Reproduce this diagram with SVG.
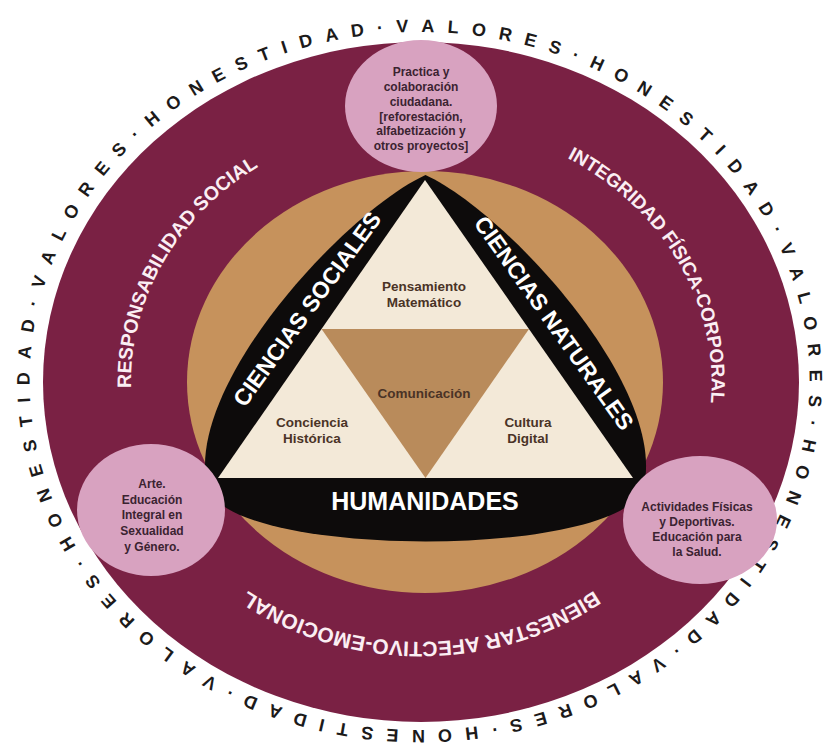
<svg xmlns="http://www.w3.org/2000/svg" width="838" height="751" viewBox="0 0 838 751">
<style>
.ring{font-family:"Liberation Sans",Arial,sans-serif;font-weight:bold;font-size:18px;fill:#1c1a1a}
.lbl{font-family:"Liberation Sans",Arial,sans-serif;font-weight:bold;fill:#fbeef3}
.ct{font-family:"Liberation Sans",Arial,sans-serif;font-weight:bold;font-size:12px;fill:#3b2331;text-anchor:middle}
.tt{font-family:"Liberation Sans",Arial,sans-serif;font-weight:bold;font-size:13.5px;fill:#4a3326;text-anchor:middle}
.bt{font-family:"Liberation Sans",Arial,sans-serif;font-weight:bold;fill:#ffffff;text-anchor:middle}
.pink{fill:#d8a2c0}
</style>
<defs>
<path id="rp" d="M 29.8 395 A 390 349 0 0 1 809.2 367 A 390 349 0 0 1 29.8 395"/>
<path id="leftArc" d="M 180.6 527.4 A 290 260 0 0 1 400.8 122.6"/>
<path id="rightArc" d="M 431.1 122.2 A 292 262 0 0 1 668.6 520.9"/>
<path id="bottomArc" d="M 672.1 512 A 290 260 0 0 1 169.9 512"/>
</defs>
<rect width="838" height="751" fill="#ffffff"/>
<g id="ring-text" class="ring">
<text><textPath href="#rp" startOffset="10">D</textPath></text>
<text><textPath href="#rp" startOffset="35.98">A</textPath></text>
<text><textPath href="#rp" startOffset="61.96">D</textPath></text>
<text><textPath href="#rp" startOffset="87.94">·</textPath></text>
<text><textPath href="#rp" startOffset="106.91">V</textPath></text>
<text><textPath href="#rp" startOffset="131.90">A</textPath></text>
<text><textPath href="#rp" startOffset="157.88">L</textPath></text>
<text><textPath href="#rp" startOffset="181.86">O</textPath></text>
<text><textPath href="#rp" startOffset="208.84">R</textPath></text>
<text><textPath href="#rp" startOffset="234.82">E</textPath></text>
<text><textPath href="#rp" startOffset="259.81">S</textPath></text>
<text><textPath href="#rp" startOffset="284.80">·</textPath></text>
<text><textPath href="#rp" startOffset="303.77">H</textPath></text>
<text><textPath href="#rp" startOffset="329.75">O</textPath></text>
<text><textPath href="#rp" startOffset="356.73">N</textPath></text>
<text><textPath href="#rp" startOffset="382.71">E</textPath></text>
<text><textPath href="#rp" startOffset="407.70">S</textPath></text>
<text><textPath href="#rp" startOffset="432.69">T</textPath></text>
<text><textPath href="#rp" startOffset="456.67">I</textPath></text>
<text><textPath href="#rp" startOffset="474.65">D</textPath></text>
<text><textPath href="#rp" startOffset="500.63">A</textPath></text>
<text><textPath href="#rp" startOffset="526.61">D</textPath></text>
<text><textPath href="#rp" startOffset="552.59">·</textPath></text>
<text><textPath href="#rp" startOffset="571.56">V</textPath></text>
<text><textPath href="#rp" startOffset="596.55">A</textPath></text>
<text><textPath href="#rp" startOffset="622.53">L</textPath></text>
<text><textPath href="#rp" startOffset="646.51">O</textPath></text>
<text><textPath href="#rp" startOffset="673.49">R</textPath></text>
<text><textPath href="#rp" startOffset="699.47">E</textPath></text>
<text><textPath href="#rp" startOffset="724.46">S</textPath></text>
<text><textPath href="#rp" startOffset="749.45">·</textPath></text>
<text><textPath href="#rp" startOffset="768.42">H</textPath></text>
<text><textPath href="#rp" startOffset="794.40">O</textPath></text>
<text><textPath href="#rp" startOffset="821.38">N</textPath></text>
<text><textPath href="#rp" startOffset="847.36">E</textPath></text>
<text><textPath href="#rp" startOffset="872.35">S</textPath></text>
<text><textPath href="#rp" startOffset="897.34">T</textPath></text>
<text><textPath href="#rp" startOffset="921.32">I</textPath></text>
<text><textPath href="#rp" startOffset="939.30">D</textPath></text>
<text><textPath href="#rp" startOffset="965.28">A</textPath></text>
<text><textPath href="#rp" startOffset="991.26">D</textPath></text>
<text><textPath href="#rp" startOffset="1017.24">·</textPath></text>
<text><textPath href="#rp" startOffset="1036.21">V</textPath></text>
<text><textPath href="#rp" startOffset="1061.20">A</textPath></text>
<text><textPath href="#rp" startOffset="1087.18">L</textPath></text>
<text><textPath href="#rp" startOffset="1111.16">O</textPath></text>
<text><textPath href="#rp" startOffset="1138.14">R</textPath></text>
<text><textPath href="#rp" startOffset="1164.12">E</textPath></text>
<text><textPath href="#rp" startOffset="1189.11">S</textPath></text>
<text><textPath href="#rp" startOffset="1214.10">·</textPath></text>
<text><textPath href="#rp" startOffset="1233.07">H</textPath></text>
<text><textPath href="#rp" startOffset="1259.05">O</textPath></text>
<text><textPath href="#rp" startOffset="1286.03">N</textPath></text>
<text><textPath href="#rp" startOffset="1312.01">E</textPath></text>
<text><textPath href="#rp" startOffset="1337.00">S</textPath></text>
<text><textPath href="#rp" startOffset="1361.99">T</textPath></text>
<text><textPath href="#rp" startOffset="1385.97">I</textPath></text>
<text><textPath href="#rp" startOffset="1403.95">D</textPath></text>
<text><textPath href="#rp" startOffset="1429.93">A</textPath></text>
<text><textPath href="#rp" startOffset="1455.91">D</textPath></text>
<text><textPath href="#rp" startOffset="1481.89">·</textPath></text>
<text><textPath href="#rp" startOffset="1500.86">V</textPath></text>
<text><textPath href="#rp" startOffset="1525.85">A</textPath></text>
<text><textPath href="#rp" startOffset="1551.83">L</textPath></text>
<text><textPath href="#rp" startOffset="1575.81">O</textPath></text>
<text><textPath href="#rp" startOffset="1602.79">R</textPath></text>
<text><textPath href="#rp" startOffset="1628.77">E</textPath></text>
<text><textPath href="#rp" startOffset="1653.76">S</textPath></text>
<text><textPath href="#rp" startOffset="1678.75">·</textPath></text>
<text><textPath href="#rp" startOffset="1697.72">H</textPath></text>
<text><textPath href="#rp" startOffset="1723.70">O</textPath></text>
<text><textPath href="#rp" startOffset="1750.68">N</textPath></text>
<text><textPath href="#rp" startOffset="1776.66">E</textPath></text>
<text><textPath href="#rp" startOffset="1801.65">S</textPath></text>
<text><textPath href="#rp" startOffset="1826.64">T</textPath></text>
<text><textPath href="#rp" startOffset="1850.62">I</textPath></text>
<text><textPath href="#rp" startOffset="1868.60">D</textPath></text>
<text><textPath href="#rp" startOffset="1894.58">A</textPath></text>
<text><textPath href="#rp" startOffset="1920.56">D</textPath></text>
<text><textPath href="#rp" startOffset="1946.54">·</textPath></text>
<text><textPath href="#rp" startOffset="1965.51">V</textPath></text>
<text><textPath href="#rp" startOffset="1990.50">A</textPath></text>
<text><textPath href="#rp" startOffset="2016.48">L</textPath></text>
<text><textPath href="#rp" startOffset="2040.46">O</textPath></text>
<text><textPath href="#rp" startOffset="2067.44">R</textPath></text>
<text><textPath href="#rp" startOffset="2093.42">E</textPath></text>
<text><textPath href="#rp" startOffset="2118.41">S</textPath></text>
<text><textPath href="#rp" startOffset="2143.40">·</textPath></text>
<text><textPath href="#rp" startOffset="2162.37">H</textPath></text>
<text><textPath href="#rp" startOffset="2188.35">O</textPath></text>
<text><textPath href="#rp" startOffset="2215.33">N</textPath></text>
<text><textPath href="#rp" startOffset="2241.31">E</textPath></text>
<text><textPath href="#rp" startOffset="2266.30">S</textPath></text>
<text><textPath href="#rp" startOffset="2291.29">T</textPath></text>
<text><textPath href="#rp" startOffset="2315.27">I</textPath></text>
</g>
<g id="outer-ring">
<ellipse cx="421" cy="382" rx="378" ry="340" fill="#7a2144"/>
</g>
<g id="ring-labels">
<text class="lbl" font-size="19.5"><textPath href="#leftArc" startOffset="150.4">RESPONSABILIDAD</textPath></text>
<text class="lbl" font-size="19.5"><textPath href="#leftArc" startOffset="344.3">SOCIAL</textPath></text>
<text class="lbl" font-size="19"><textPath href="#rightArc" startOffset="141.9">INTEGRIDAD</textPath></text>
<text class="lbl" font-size="19"><textPath href="#rightArc" startOffset="265.4">FÍSICA-CORPORAL</textPath></text>
<text class="lbl" font-size="21"><textPath href="#bottomArc" startOffset="50%" text-anchor="middle">BIENESTAR AFECTIVO-EMOCIONAL</textPath></text>
</g>
<g id="tan-core">
<ellipse cx="425" cy="382" rx="238" ry="211" fill="#c6925c"/>
</g>
<g id="triangle">
<path d="M 425.5 175 C 345 212 185 385 207 486 C 225 560 626 560 644 486 C 666 385 506 212 425.5 175 Z" fill="#0d0b0b"/>
<polygon points="425,180 218,478 633,478" fill="#f3e9d8"/>
<polygon points="321.5,329 529,329 425.5,478" fill="#b98b5b"/>
</g>
<g id="node-pensamiento"><text class="tt" x="424" y="291">Pensamiento</text><text class="tt" x="424" y="307">Matemático</text></g>
<g id="node-comunicacion"><text class="tt" x="424" y="398">Comunicación</text></g>
<g id="node-conciencia"><text class="tt" x="312" y="427">Conciencia</text><text class="tt" x="312" y="443">Histórica</text></g>
<g id="node-cultura"><text class="tt" x="528" y="427">Cultura</text><text class="tt" x="528" y="443">Digital</text></g>
<g id="node-sociales"><text class="bt" font-size="23" transform="translate(307 309) rotate(-54)" y="8">CIENCIAS SOCIALES</text></g>
<g id="node-naturales"><text class="bt" font-size="23" transform="translate(554 323) rotate(54.5)" y="8">CIENCIAS NATURALES</text></g>
<g id="node-humanidades"><text class="bt" font-size="25" x="425" y="510">HUMANIDADES</text></g>
<g id="circle-top">
<ellipse class="pink" cx="421" cy="106" rx="76" ry="66"/>
<text class="ct" x="421" y="76">Practica y</text>
<text class="ct" x="421" y="91">colaboración</text>
<text class="ct" x="421" y="106">ciudadana.</text>
<text class="ct" x="421" y="121">[reforestación,</text>
<text class="ct" x="421" y="135">alfabetización y</text>
<text class="ct" x="421" y="150">otros proyectos]</text>
</g>
<g id="circle-left">
<ellipse class="pink" cx="151" cy="510" rx="74" ry="66"/>
<text class="ct" x="152" y="488">Arte.</text>
<text class="ct" x="152" y="504">Educación</text>
<text class="ct" x="152" y="519">Integral en</text>
<text class="ct" x="152" y="535">Sexualidad</text>
<text class="ct" x="152" y="551">y Género.</text>
</g>
<g id="circle-right">
<ellipse class="pink" cx="700" cy="520" rx="77" ry="64"/>
<text class="ct" x="697" y="511">Actividades Físicas</text>
<text class="ct" x="697" y="526">y Deportivas.</text>
<text class="ct" x="697" y="541">Educación para</text>
<text class="ct" x="697" y="556">la Salud.</text>
</g>
</svg>
